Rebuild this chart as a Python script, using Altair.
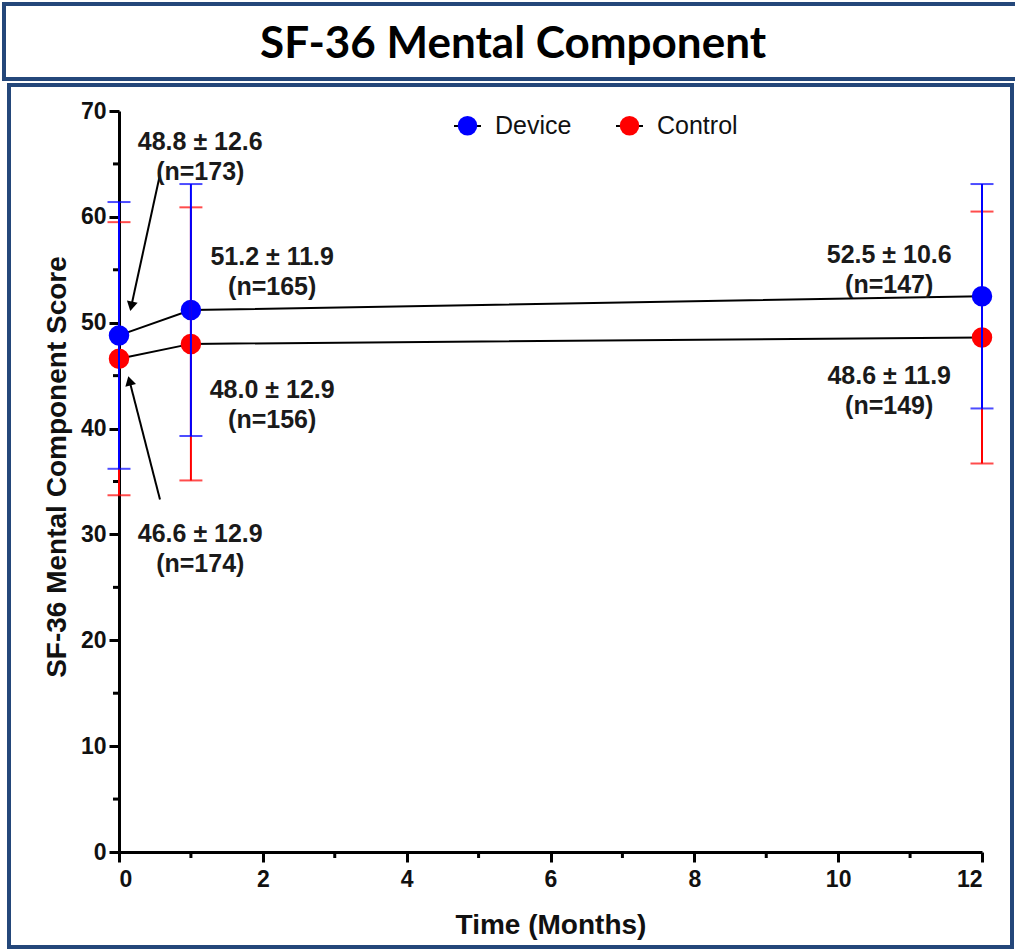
import altair as alt
import pandas as pd
import numpy as np

# ---- data ----
months = [0, 1, 12]
device_mean = [48.8, 51.2, 52.5]
device_sd = [12.6, 11.9, 10.6]
device_n = [173, 165, 147]
control_mean = [46.6, 48.0, 48.6]
control_sd = [12.9, 12.9, 11.9]
control_n = [174, 156, 149]

groups = ["Device", "Control"]
colors = ["#0000FF", "#FF0000"]

# annotation block centers (data units)
ann_group = ["Device", "Device", "Device", "Control", "Control", "Control"]
ann_idx = [0, 1, 2, 0, 1, 2]
ann_x = [1.13, 2.13, 10.71, 1.13, 2.13, 10.71]
ann_y = [67.1, 56.2, 56.4, 30.0, 43.6, 45.0]

# arrows (tail -> tip, data units)
arrow_tail_x = [0.57, 0.57]
arrow_tail_y = [64.0, 33.3]
arrow_tip_x = [0.153, 0.125]
arrow_tip_y = [51.0, 45.06]

W, H = 863, 741
XMAX, YMAX = 12, 70
pxx = W / XMAX
pxy = H / YMAX

rows = []
for g, m, s, n in [("Device", device_mean, device_sd, device_n),
                   ("Control", control_mean, control_sd, control_n)]:
    for i, t in enumerate(months):
        rows.append({"group": g, "month": t, "mean": m[i], "lo": m[i] - s[i],
                     "hi": m[i] + s[i], "sd": s[i], "n": n[i]})
df = pd.DataFrame(rows)

ann_rows = []
for g, i, x, y in zip(ann_group, ann_idx, ann_x, ann_y):
    r = df[(df.group == g) & (df.month == months[i])].iloc[0]
    ann_rows.append({"x": x, "y": y,
                     "label": f"{r['mean']:.1f} \u00b1 {r['sd']:.1f}\n(n={int(r['n'])})"})
ann_df = pd.DataFrame(ann_rows)

arr_rows = []
for tx, ty, hx, hy in zip(arrow_tail_x, arrow_tail_y, arrow_tip_x, arrow_tip_y):
    dxp = (hx - tx) * pxx
    dyp = -(hy - ty) * pxy
    L = np.hypot(dxp, dyp)
    ux, uy = dxp / L, dyp / L
    ang = (np.degrees(np.arctan2(dxp, -dyp)) + 360) % 360
    back = 6
    cx = hx - ux * back / pxx
    cy = hy + uy * back / pxy
    lx = hx - ux * 8 / pxx
    ly = hy + uy * 8 / pxy
    arr_rows.append({"x": tx, "y": ty, "x2": lx, "y2": ly, "hx": cx, "hy": cy, "angle": float(ang)})
arr_df = pd.DataFrame(arr_rows)

minor_y = pd.DataFrame({"v": [5, 15, 25, 35, 45, 55, 65]})
minor_x = pd.DataFrame({"v": [1, 3, 5, 7, 9, 11]})

FONT = "Liberation Sans"
xscale = alt.Scale(domain=[0, XMAX], nice=False, zero=False)
yscale = alt.Scale(domain=[0, YMAX], nice=False)
cscale = alt.Scale(domain=groups, range=colors)

X = alt.X("month:Q", scale=xscale,
          axis=alt.Axis(values=[0, 2, 4, 6, 8, 10, 12], format="d", title="Time (Months)"))
Y = alt.Y("mean:Q", scale=yscale,
          axis=alt.Axis(values=[0, 10, 20, 30, 40, 50, 60, 70], format="d",
                        title="SF-36 Mental Component Score", titleY=H / 2 - 15))

base = alt.Chart(df)

lines = base.mark_line(color="black", strokeWidth=2).encode(x=X, y=Y, detail="group:N")

points = base.mark_circle(size=420, opacity=1).encode(
    x=X, y=Y,
    color=alt.Color("group:N", scale=cscale, sort=groups,
                    legend=alt.Legend(title=None, orient="none", direction="horizontal",
                                      legendX=336, legendY=2, symbolType="circle",
                                      symbolSize=380, symbolStrokeWidth=0, symbolOpacity=1,
                                      labelFontSize=25, labelFont=FONT, labelColor="#111",
                                      columnPadding=45, labelOffset=15)))

def bars(g):
    d = base.transform_filter(alt.datum.group == g)
    r = d.mark_rule(strokeWidth=2).encode(
        x="month:Q", y="lo:Q", y2="hi:Q",
        color=alt.Color("group:N", scale=cscale, legend=None))
    t1 = d.mark_tick(orient="horizontal", size=23, thickness=2).encode(
        x="month:Q", y="lo:Q", color=alt.Color("group:N", scale=cscale, legend=None))
    t2 = d.mark_tick(orient="horizontal", size=23, thickness=2).encode(
        x="month:Q", y="hi:Q", color=alt.Color("group:N", scale=cscale, legend=None))
    return r + t1 + t2

minor_ticks_y = alt.Chart(minor_y).mark_rule(color="black", strokeWidth=3).encode(
    y="v:Q", x=alt.value(-6), x2=alt.value(0))
minor_ticks_x = alt.Chart(minor_x).mark_rule(color="black", strokeWidth=3).encode(
    x="v:Q", y=alt.value(H), y2=alt.value(H + 6))

ann = alt.Chart(ann_df).mark_text(font=FONT, fontSize=25, fontWeight="bold", color="#1a1a1a",
                                  lineBreak="\n", lineHeight=30, baseline="middle",
                                  align="center").encode(x="x:Q", y="y:Q", text="label:N")

arrow_lines = alt.Chart(arr_df).mark_rule(color="black", strokeWidth=2).encode(
    x="x:Q", y="y:Q", x2="x2:Q", y2="y2:Q")
arrow_heads = alt.Chart(arr_df).mark_point(shape="triangle-up", filled=True, color="black",
                                           size=120, opacity=1).encode(
    x="hx:Q", y="hy:Q", angle=alt.Angle("angle:Q", scale=None))

frame_df = pd.DataFrame({"k": [0]})
BORDER = "#24477A"
title_box = alt.Chart(frame_df).mark_rect(fill="transparent", stroke=BORDER, strokeWidth=4).encode(
    x=alt.value(-115), x2=alt.value(905), y=alt.value(-107), y2=alt.value(-32))
main_box = alt.Chart(frame_df).mark_rect(fill="transparent", stroke=BORDER, strokeWidth=4).encode(
    x=alt.value(-110), x2=alt.value(893), y=alt.value(-26), y2=alt.value(836))
title_text = alt.Chart(frame_df).mark_text(font="Lato", fontSize=44, fontWeight="bold",
                                           color="black", baseline="middle").encode(
    x=alt.value(394), y=alt.value(-66), text=alt.value("SF-36 Mental Component"))

# small black line segments behind the legend symbols
legend_line_d = alt.Chart(frame_df).mark_rule(color="black", strokeWidth=2).encode(
    x=alt.value(335), x2=alt.value(362), y=alt.value(15))
legend_line_c = alt.Chart(frame_df).mark_rule(color="black", strokeWidth=2).encode(
    x=alt.value(497), x2=alt.value(524), y=alt.value(15))

chart = alt.layer(
    title_box, main_box, title_text, legend_line_d, legend_line_c,
    minor_ticks_y, minor_ticks_x,
    lines, points, bars("Control"), bars("Device"),
    arrow_lines, arrow_heads, ann
).properties(
    width=W, height=H,
    padding={"left": 119, "top": 111, "right": 33, "bottom": 99},
    autosize=alt.AutoSizeParams(type="none"),
    background="white"
).configure_view(stroke=None).configure_axis(
    grid=False, domainColor="black", domainWidth=3, tickColor="black", tickWidth=3,
    tickSize=10, labelFont=FONT, labelFontSize=23, labelFontWeight="bold", labelColor="#111",
    titleFont=FONT, titleFontSize=28, titleFontWeight="bold", titleColor="#111",
    labelPadding=3
).configure_axisX(labelPadding=6, titlePadding=20).configure_axisY(titlePadding=9)

chart.save("out.html", embed_options={"renderer": "svg", "actions": False})
